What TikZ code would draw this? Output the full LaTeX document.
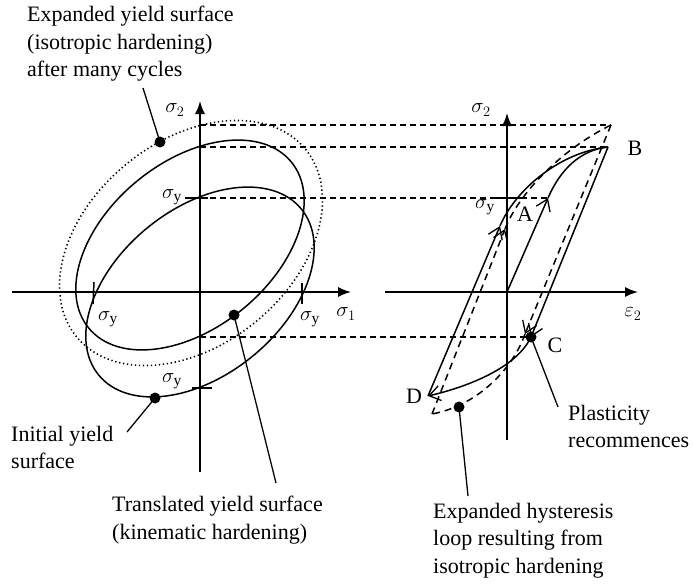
\documentclass[tikz,border=0pt]{standalone}
\usepackage{fontspec}
\setmainfont{Liberation Serif}
\usetikzlibrary{arrows.meta}
\begin{document}
\begin{tikzpicture}[x=1pt,y=-1pt,
  every node/.style={font=\fontsize{22}{27.5}\selectfont},
  curve/.style={line width=1.5pt},
  axisline/.style={line width=1.5pt,-{Latex[length=13pt,width=10pt]}},
  guide/.style={line width=1.1pt,dash pattern=on 6pt off 4pt},
  loopdash/.style={line width=1.5pt,dash pattern=on 7pt off 5pt},
  dotsurf/.style={line width=1.6pt,dash pattern=on 1.3pt off 2.7pt},
  barb/.style={-{Straight Barb[length=11pt,width=15pt,line width=1.3pt]}},
  dotmark/.style={circle,fill,inner sep=0pt,minimum size=11pt},
  lbltext/.style={align=left,anchor=north west,inner sep=0pt},
  leader/.style={line width=1.3pt},
  tick/.style={line width=1.5pt}]
\useasboundingbox (0,0) rectangle (693,587);

% ---------------- left plot: axes
\coordinate (h1s) at (12,292);
\coordinate (h1e) at (351,292);
\coordinate (v1s) at (200,472);
\coordinate (v1e) at (200,101);
\draw[axisline] (h1s) -- (h1e);
\draw[axisline] (v1s) -- (v1e);

% ---------------- right plot: axes
\coordinate (h2s) at (385,292);
\coordinate (h2e) at (638,292);
\coordinate (v2s) at (507,440);
\coordinate (v2e) at (507,113);
\draw[axisline] (h2s) -- (h2e);
\draw[axisline] (v2s) -- (v2e);

% ---------------- yield surfaces
\coordinate (ci) at (200,292);
\coordinate (ct) at (190,245);
\coordinate (ce) at (191,243);
\draw[curve, rotate around={39.3:(ci)}] (ci) ellipse [x radius=131, y radius=83];
\draw[curve, rotate around={39.3:(ct)}] (ct) ellipse [x radius=131, y radius=83];
\draw[dotsurf, rotate around={39.3:(ce)}] (ce) ellipse [x radius=148, y radius=102];

% ticks on left plot
\coordinate (tk1a) at (185,198); \coordinate (tk1b) at (208,198);
\coordinate (tk2a) at (192,388); \coordinate (tk2b) at (212,388);
\coordinate (tk3a) at (94,282);  \coordinate (tk3b) at (93,304);
\coordinate (tk4a) at (302,283); \coordinate (tk4b) at (302,304);
\draw[tick] (tk1a) -- (tk1b);
\draw[tick] (tk2a) -- (tk2b);
\draw[tick] (tk3a) -- (tk3b);
\draw[tick] (tk4a) -- (tk4b);

% ---------------- guide lines
\coordinate (g1a) at (200,125); \coordinate (g1b) at (611,125);
\coordinate (g2a) at (200,147); \coordinate (g2b) at (608,147);
\coordinate (g3a) at (200,198); \coordinate (g3b) at (495,198);
\coordinate (g3c) at (521,198); \coordinate (g3d) at (548,198);
\coordinate (g4a) at (200,337); \coordinate (g4b) at (531,337);
\draw[guide] (g1a) -- (g1b);
\draw[guide] (g2a) -- (g2b);
\draw[guide] (g3a) -- (g3b);
\draw[tick] (g3b) -- (g3c);
\draw[guide] (g3c) -- (g3d);
\draw[guide] (g4a) -- (g4b);

% ---------------- hysteresis loop (solid)
\coordinate (O) at (507,292);
\coordinate (A) at (548,198);
\coordinate (B) at (608,147);
\coordinate (C) at (531,337);
\coordinate (D) at (428,396);
\coordinate (P) at (500,226);
\draw[curve,barb] (O) -- (A);
\draw[curve] (A) .. controls (560,170) and (580,150) .. (B);
\draw[curve,barb] (B) -- (C);
\draw[curve,barb] (C) .. controls (518,365) and (475,385) .. (D);
\draw[curve,barb] (D) -- (P);
\draw[curve] (P) .. controls (515,190) and (560,152) .. (B);

% ---------------- expanded loop (dashed)
\coordinate (T) at (611,125);
\coordinate (Cd) at (525,334);
\coordinate (Dd) at (432,414);
\coordinate (Pd) at (505,229);
\draw[loopdash,barb] (T) -- (Cd);
\draw[loopdash] (Cd) .. controls (514,366) and (480,405) .. (Dd);
\draw[loopdash,barb] (Dd) -- (Pd);
\draw[loopdash] (Pd) .. controls (518,195) and (560,150) .. (T);

% ---------------- marker dots
\node[dotmark] (dexp) at (160,142) {};
\node[dotmark] (dtra) at (234,315) {};
\node[dotmark] (dini) at (155,398) {};
\node[dotmark] (dC) at (C) {};
\node[dotmark] (dhys) at (459,407) {};

% ---------------- leaders
\coordinate (lexp) at (143,88);
\coordinate (ltra) at (276,483);
\coordinate (lini) at (127,432);
\coordinate (lpla) at (558,407);
\coordinate (lhys) at (468,496);
\draw[leader] (dexp.center) -- (lexp);
\draw[leader] (dtra.center) -- (ltra);
\draw[leader] (dini.center) -- (lini);
\draw[leader] (dC.center) -- (lpla);
\draw[leader] (dhys.center) -- (lhys);

% ---------------- axis & point labels
\node (s2l) at (175,110) {$\sigma_2$};
\node (s1l) at (346,314) {$\sigma_1$};
\node (sytop) at (172,197) {$\sigma_{\mathrm{y}}$};
\node (syleft) at (108,319) {$\sigma_{\mathrm{y}}$};
\node (syright) at (310,319) {$\sigma_{\mathrm{y}}$};
\node (sybot) at (172,381) {$\sigma_{\mathrm{y}}$};
\node (s2r) at (481,110) {$\sigma_2$};
\node (e2r) at (633,314) {$\varepsilon_2$};
\node (syr) at (485,207) {$\sigma_{\mathrm{y}}$};
\node (lA) at (525,214) {A};
\node (lB) at (635,148) {B};
\node (lC) at (555,345) {C};
\node (lD) at (414,396) {D};

% ---------------- descriptive texts
\node[lbltext] (texp) at (27,6) {Expanded yield surface\\(isotropic hardening)\\after many cycles};
\node[lbltext] (tini) at (11,426) {Initial yield\\surface};
\node[lbltext] (ttra) at (112,496) {Translated yield surface\\(kinematic hardening)};
\node[lbltext] (tpla) at (568,405) {Plasticity\\recommences};
\node[lbltext] (thys) at (433,503) {Expanded hysteresis\\loop resulting from\\isotropic hardening};
\end{tikzpicture}
\end{document}
